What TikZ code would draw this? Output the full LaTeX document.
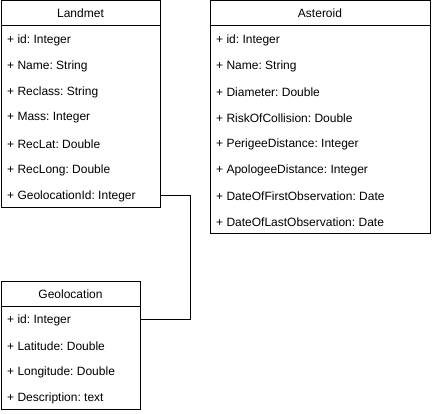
\documentclass[tikz,border=0pt]{standalone}
\usepackage{fontspec}
\setmainfont{Liberation Sans}
\frenchspacing
\begin{document}
\begin{tikzpicture}[x=1pt,y=-1pt,
  box/.style={draw=black, line width=1pt, fill=white, anchor=north west, inner sep=0pt, outer sep=0pt},
  title/.style={font=\fontsize{12}{14}\selectfont\frenchspacing, inner sep=0pt, anchor=center},
  attr/.style={font=\fontsize{12}{14}\selectfont\frenchspacing, inner sep=0pt, anchor=west},
  sep/.style={draw=black, line width=1pt},
  link/.style={draw=black, line width=1pt}]
\useasboundingbox (0,0) rectangle (432,414);
% Landmet
\node[box, minimum width=159pt, minimum height=207pt] (lm) at (1,1) {};
\draw[sep] (lm.north west |- 0,26) -- (lm.north east |- 0,26);
\node[title] (lmt) at (80.5,13.5) {Landmet};
\node[attr] (lm1) at (7,40) {+ id: Integer};
\node[attr] (lm2) at (7,66) {+ Name: String};
\node[attr] (lm3) at (7,92) {+ Reclass: String};
\node[attr] (lm4) at (7,118) {+ Mass: Integer};
\node[attr] (lm5) at (7,144) {+ RecLat: Double};
\node[attr] (lm6) at (7,170) {+ RecLong: Double};
\node[attr] (lm7) at (7,196) {+ GeolocationId: Integer};
% Asteroid
\node[box, minimum width=220pt, minimum height=233pt] (as) at (210,1) {};
\draw[sep] (as.north west |- 0,26) -- (as.north east |- 0,26);
\node[title] (ast) at (320,13.5) {Asteroid};
\node[attr] (as1) at (216,40) {+ id: Integer};
\node[attr] (as2) at (216,66) {+ Name: String};
\node[attr] (as3) at (216,92) {+ Diameter: Double};
\node[attr] (as4) at (216,118) {+ RiskOfCollision: Double};
\node[attr] (as5) at (216,144) {+ PerigeeDistance: Integer};
\node[attr] (as6) at (216,170) {+ ApologeeDistance: Integer};
\node[attr] (as7) at (216,196) {+ DateOfFirstObservation: Date};
\node[attr] (as8) at (216,222) {+ DateOfLastObservation: Date};
% Geolocation
\node[box, minimum width=139pt, minimum height=128pt] (geo) at (1,282) {};
\draw[sep] (geo.north west |- 0,307) -- (geo.north east |- 0,307);
\node[title] (geot) at (70.5,294.5) {Geolocation};
\node[attr] (geo1) at (7,320) {+ id: Integer};
\node[attr] (geo2) at (7,346) {+ Latitude: Double};
\node[attr] (geo3) at (7,372) {+ Longitude: Double};
\node[attr] (geo4) at (7,398) {+ Description: text};
% connector
\draw[link] (lm.east |- lm7.west) -- ++(30,0) |- (geo.east |- geo1.west);
\end{tikzpicture}
\end{document}
